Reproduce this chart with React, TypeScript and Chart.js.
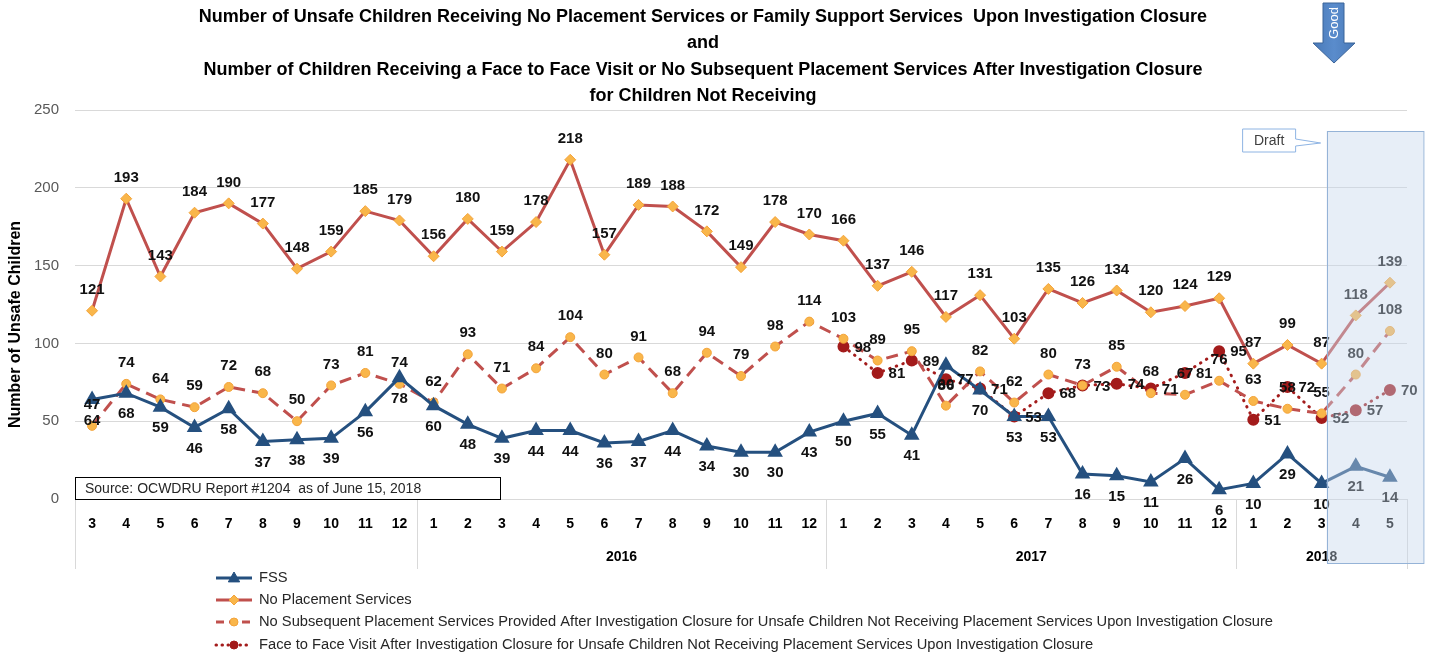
import React, { useEffect, useRef } from 'react';
import { Chart, registerables } from 'chart.js';

Chart.register(...registerables);

const FONT = '"Liberation Sans", Arial, sans-serif';

const titleLines = [
  'Number of Unsafe Children Receiving No Placement Services or Family Support Services  Upon Investigation Closure',
  'and',
  'Number of Children Receiving a Face to Face Visit or No Subsequent Placement Services After Investigation Closure',
  'for Children Not Receiving',
];

const yAxisTitle = 'Number of Unsafe Children';
const sourceText = 'Source: OCWDRU Report #1204  as of June 15, 2018';
const draftText = 'Draft';
const goodText = 'Good';

const monthLabels = [
  '3', '4', '5', '6', '7', '8', '9', '10', '11', '12',
  '1', '2', '3', '4', '5', '6', '7', '8', '9', '10', '11', '12',
  '1', '2', '3', '4', '5', '6', '7', '8', '9', '10', '11', '12',
  '1', '2', '3', '4', '5',
];
const yearLabels = ['', '2016', '2017', '2018'];
const yearMonthCounts = [10, 12, 12, 5];

const yMin = 0;
const yMax = 250;
const yStep = 50;

const seriesNames = [
  'FSS',
  'No Placement Services',
  'No Subsequent Placement Services Provided After Investigation Closure for Unsafe Children Not Receiving Placement Services Upon Investigation Closure',
  'Face to Face Visit After Investigation Closure for Unsafe Children Not Receiving Placement Services Upon Investigation Closure',
];

const fssValues = [
  64, 68, 59, 46, 58, 37, 38, 39, 56, 78,
  60, 48, 39, 44, 44, 36, 37, 44, 34, 30, 30, 43,
  50, 55, 41, 86, 70, 53, 53, 16, 15, 11, 26, 6,
  10, 29, 10, 21, 14,
];
const noPlacementValues = [
  121, 193, 143, 184, 190, 177, 148, 159, 185, 179,
  156, 180, 159, 178, 218, 157, 189, 188, 172, 149, 178, 170,
  166, 137, 146, 117, 131, 103, 135, 126, 134, 120, 124, 129,
  87, 99, 87, 118, 139,
];
const noSubsequentValues = [
  47, 74, 64, 59, 72, 68, 50, 73, 81, 74,
  62, 93, 71, 84, 104, 80, 91, 68, 94, 79, 98, 114,
  103, 89, 95, 60, 82, 62, 80, 73, 85, 68, 67, 76,
  63, 58, 55, 80, 108,
];
const faceToFaceValues = [
  null, null, null, null, null, null, null, null, null, null,
  null, null, null, null, null, null, null, null, null, null, null, null,
  98, 81, 89, 77, 71, 53, 68, 73, 74, 71, 81, 95,
  51, 72, 52, 57, 70,
];

const FSS_COLOR = '#25507f';
const RED = '#c0504d';
const ORANGE = '#f9b64a';
const ORANGE_EDGE = '#f3a33a';
const DARK_RED = '#a31b1b';

type Marker = 'triangle' | 'rectRot' | 'circle';

function drawMarker(ctx: CanvasRenderingContext2D, type: Marker, x: number, y: number, r: number, fill: string, stroke: string) {
  ctx.save();
  ctx.setLineDash([]);
  ctx.beginPath();
  if (type === 'triangle') {
    ctx.moveTo(x, y - r);
    ctx.lineTo(x + r * 0.95, y + r * 0.65);
    ctx.lineTo(x - r * 0.95, y + r * 0.65);
    ctx.closePath();
  } else if (type === 'rectRot') {
    ctx.moveTo(x, y - r);
    ctx.lineTo(x + r, y);
    ctx.lineTo(x, y + r);
    ctx.lineTo(x - r, y);
    ctx.closePath();
  } else {
    ctx.arc(x, y, r, 0, Math.PI * 2);
  }
  ctx.fillStyle = fill;
  ctx.fill();
  ctx.lineWidth = 1;
  ctx.strokeStyle = stroke;
  ctx.stroke();
  ctx.restore();
}

const decorPlugin = {
  id: 'decor',
  afterDatasetsDraw(chart: any) {
    const ctx: CanvasRenderingContext2D = chart.ctx;
    const positions = ['bottom', 'top', 'top', 'right'];
    ctx.save();
    ctx.font = `bold 15px ${FONT}`;
    ctx.fillStyle = '#111111';
    ctx.textBaseline = 'middle';
    chart.data.datasets.forEach((ds: any, di: number) => {
      const meta = chart.getDatasetMeta(di);
      meta.data.forEach((pt: any, i: number) => {
        const v = ds.data[i];
        if (v === null || v === undefined) return;
        const pos = positions[di];
        if (pos === 'top') {
          ctx.textAlign = 'center';
          ctx.fillText(String(v), pt.x, pt.y - 21);
        } else if (pos === 'bottom') {
          ctx.textAlign = 'center';
          ctx.fillText(String(v), pt.x, pt.y + 21);
        } else {
          ctx.textAlign = 'left';
          ctx.fillText(String(v), pt.x + 11, pt.y + 1);
        }
      });
    });
    ctx.restore();
  },
  afterDraw(chart: any) {
    const ctx: CanvasRenderingContext2D = chart.ctx;
    const area = chart.chartArea;
    const xs = chart.scales.x;
    ctx.save();

    // Title
    ctx.fillStyle = '#000';
    ctx.font = `bold 18px ${FONT}`;
    ctx.textAlign = 'center';
    ctx.textBaseline = 'middle';
    const titleYs = [17, 43, 70, 96];
    titleLines.forEach((t, i) => ctx.fillText(t, 703, titleYs[i]));

    // Y axis title
    ctx.save();
    ctx.translate(16, (area.top + area.bottom) / 2 + 20);
    ctx.rotate(-Math.PI / 2);
    ctx.font = `bold 16px ${FONT}`;
    ctx.fillText(yAxisTitle, 0, 0);
    ctx.restore();

    // Year groups and separators
    const step = xs.getPixelForValue(1) - xs.getPixelForValue(0);
    let start = 0;
    ctx.strokeStyle = '#d9d9d9';
    ctx.lineWidth = 1;
    ctx.font = `bold 14px ${FONT}`;
    ctx.fillStyle = '#000';
    const bounds: number[] = [];
    yearMonthCounts.forEach((cnt, gi) => {
      const end = start + cnt - 1;
      const left = xs.getPixelForValue(start) - step / 2;
      bounds.push(left);
      const cx = (xs.getPixelForValue(start) + xs.getPixelForValue(end)) / 2;
      if (yearLabels[gi]) ctx.fillText(yearLabels[gi], cx, area.bottom + 58);
      start = end + 1;
    });
    bounds.push(area.right);
    bounds.forEach((bx) => {
      ctx.beginPath();
      ctx.moveTo(Math.round(bx) + 0.5, area.bottom);
      ctx.lineTo(Math.round(bx) + 0.5, area.bottom + 70);
      ctx.stroke();
    });

    // Source box
    ctx.fillStyle = '#fff';
    ctx.fillRect(area.left, area.bottom - 22, 425, 22);
    ctx.strokeStyle = '#000';
    ctx.lineWidth = 1;
    ctx.strokeRect(area.left + 0.5, area.bottom - 21.5, 425, 22);
    ctx.fillStyle = '#262626';
    ctx.font = `14px ${FONT}`;
    ctx.textAlign = 'left';
    ctx.fillText(sourceText, area.left + 10, area.bottom - 10);

    // Legend
    const legendStyles = [
      { color: FSS_COLOR, dash: [] as number[], cap: 'butt', marker: 'triangle' as Marker, fill: FSS_COLOR, stroke: FSS_COLOR, r: 6 },
      { color: RED, dash: [] as number[], cap: 'butt', marker: 'rectRot' as Marker, fill: ORANGE, stroke: ORANGE_EDGE, r: 5 },
      { color: RED, dash: [8, 5], cap: 'butt', marker: 'circle' as Marker, fill: ORANGE, stroke: ORANGE_EDGE, r: 4 },
      { color: DARK_RED, dash: [0.5, 5.5], cap: 'round', marker: 'circle' as Marker, fill: DARK_RED, stroke: DARK_RED, r: 4 },
    ];
    const legendYs = [578, 600, 622, 645];
    seriesNames.forEach((name, i) => {
      const st = legendStyles[i];
      const y = legendYs[i];
      ctx.save();
      ctx.strokeStyle = st.color;
      ctx.lineWidth = 3;
      ctx.setLineDash(st.dash);
      ctx.lineCap = st.cap as CanvasLineCap;
      ctx.beginPath();
      ctx.moveTo(216, y);
      ctx.lineTo(252, y);
      ctx.stroke();
      ctx.restore();
      drawMarker(ctx, st.marker, 234, y, st.r, st.fill, st.stroke);
      ctx.fillStyle = '#262626';
      ctx.font = `14.7px ${FONT}`;
      ctx.textAlign = 'left';
      ctx.textBaseline = 'middle';
      ctx.fillText(name, 259, y);
    });

    // Draft overlay
    const ox = xs.getPixelForValue(36) + 5;
    const oTop = area.top + 21;
    const oRight = area.right + 16;
    const oBottom = area.bottom + 64;
    ctx.fillStyle = 'rgba(198, 214, 236, 0.42)';
    ctx.fillRect(ox, oTop, oRight - ox, oBottom - oTop);
    ctx.strokeStyle = '#95b3d7';
    ctx.lineWidth = 1;
    ctx.strokeRect(Math.round(ox) + 0.5, oTop + 0.5, oRight - ox, oBottom - oTop);

    // Draft callout
    const bx0 = ox - 84;
    const by0 = oTop - 2;
    ctx.beginPath();
    ctx.moveTo(bx0, by0);
    ctx.lineTo(bx0 + 53, by0);
    ctx.lineTo(bx0 + 53, by0 + 10);
    ctx.lineTo(ox - 6, by0 + 14);
    ctx.lineTo(bx0 + 53, by0 + 17);
    ctx.lineTo(bx0 + 53, by0 + 23);
    ctx.lineTo(bx0, by0 + 23);
    ctx.closePath();
    ctx.fillStyle = '#fff';
    ctx.fill();
    ctx.strokeStyle = '#8eb4e3';
    ctx.stroke();
    ctx.fillStyle = '#404040';
    ctx.font = `14px ${FONT}`;
    ctx.textAlign = 'center';
    ctx.fillText(draftText, bx0 + 26.5, by0 + 12);

    // Good arrow
    ctx.beginPath();
    ctx.moveTo(1323, 3);
    ctx.lineTo(1344, 3);
    ctx.lineTo(1344, 43);
    ctx.lineTo(1355, 43);
    ctx.lineTo(1334, 63);
    ctx.lineTo(1313, 43);
    ctx.lineTo(1323, 43);
    ctx.closePath();
    const grad = ctx.createLinearGradient(1313, 0, 1355, 0);
    grad.addColorStop(0, '#4a7ab8');
    grad.addColorStop(0.5, '#5a8ccc');
    grad.addColorStop(1, '#4a7ab8');
    ctx.fillStyle = grad;
    ctx.fill();
    ctx.strokeStyle = '#3b6499';
    ctx.stroke();
    ctx.save();
    ctx.translate(1334, 23);
    ctx.rotate(-Math.PI / 2);
    ctx.fillStyle = '#ffffff';
    ctx.font = `13px ${FONT}`;
    ctx.textAlign = 'center';
    ctx.textBaseline = 'middle';
    ctx.fillText(goodText, 0, 0);
    ctx.restore();

    ctx.restore();
  },
};

export default function App() {
  const ref = useRef<HTMLCanvasElement>(null);
  useEffect(() => {
    document.body.style.margin = '0';
    document.body.style.overflow = 'hidden';
    const canvas = ref.current;
    if (!canvas) return;
    const chart = new Chart(canvas, {
      type: 'line',
      data: {
        labels: monthLabels,
        datasets: [
          {
            label: seriesNames[0],
            data: fssValues,
            borderColor: FSS_COLOR,
            backgroundColor: FSS_COLOR,
            borderWidth: 3,
            pointStyle: 'triangle',
            pointRadius: 6,
            pointBackgroundColor: FSS_COLOR,
            pointBorderColor: FSS_COLOR,
            tension: 0,
            order: 1,
          },
          {
            label: seriesNames[1],
            data: noPlacementValues,
            borderColor: RED,
            backgroundColor: ORANGE,
            borderWidth: 3,
            pointStyle: 'rectRot',
            pointRadius: 5.5,
            pointBackgroundColor: ORANGE,
            pointBorderColor: ORANGE_EDGE,
            pointBorderWidth: 1,
            tension: 0,
            order: 2,
          },
          {
            label: seriesNames[2],
            data: noSubsequentValues,
            borderColor: RED,
            backgroundColor: ORANGE,
            borderWidth: 3,
            borderDash: [12, 7],
            pointStyle: 'circle',
            pointRadius: 4.5,
            pointBackgroundColor: ORANGE,
            pointBorderColor: ORANGE_EDGE,
            pointBorderWidth: 1,
            tension: 0,
            order: 3,
          },
          {
            label: seriesNames[3],
            data: faceToFaceValues,
            borderColor: DARK_RED,
            backgroundColor: DARK_RED,
            borderWidth: 3,
            borderDash: [0.5, 6.5],
            borderCapStyle: 'round',
            pointStyle: 'circle',
            pointRadius: 4.5,
            pointBackgroundColor: DARK_RED,
            pointBorderColor: DARK_RED,
            tension: 0,
            order: 4,
          },
        ],
      },
      options: {
        responsive: false,
        animation: false,
        events: [],
        layout: { padding: { top: 110, right: 25, left: 0, bottom: 0 } },
        plugins: {
          legend: { display: false },
          title: { display: false },
          tooltip: { enabled: false },
        },
        scales: {
          x: {
            type: 'category',
            offset: true,
            grid: { display: false, drawTicks: false },
            border: { display: false },
            ticks: {
              autoSkip: false,
              maxRotation: 0,
              minRotation: 0,
              padding: 17,
              color: '#000',
              font: { family: FONT, size: 14, weight: 'bold' },
            },
            afterFit: (s: any) => {
              s.height = 156;
            },
          },
          y: {
            min: yMin,
            max: yMax,
            ticks: {
              stepSize: yStep,
              padding: 16,
              color: '#595959',
              font: { family: FONT, size: 15 },
            },
            grid: { color: '#d9d9d9', drawTicks: false, lineWidth: 1 },
            border: { display: false },
            afterFit: (s: any) => {
              s.width = 75;
            },
          },
        },
      } as any,
      plugins: [decorPlugin],
    });
    return () => chart.destroy();
  }, []);
  return (
    <div style={{ width: 1432, height: 655, position: 'relative' }}>
      <canvas ref={ref} width={1432} height={655} style={{ display: 'block' }} />
    </div>
  );
}
